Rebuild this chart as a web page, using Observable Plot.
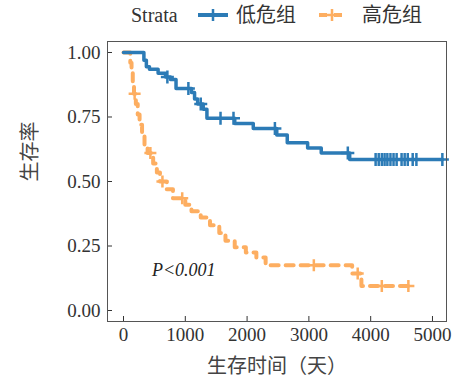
<!DOCTYPE html>
<html>
<head>
<meta charset="utf-8">
<script src="https://cdn.jsdelivr.net/npm/d3@7"></script>
<script src="https://cdn.jsdelivr.net/npm/@observablehq/plot@0.6"></script>
<style>
  body { margin: 0; background: #fff; }
  #wrap { width: 452px; position: relative; }
  #legend { position: relative; width: 452px; height: 35px; font-family: "Liberation Serif", "Noto Sans CJK SC", serif; color: #333; }
  #legend .item { position: absolute; top: 0; height: 30px; line-height: 30px; white-space: nowrap; }
  #legend svg { position: absolute; top: 0; }
  #chart svg text { font-family: "Liberation Serif", "Noto Sans CJK SC", serif; }
</style>
</head>
<body>
<div id="wrap">
  <div id="legend"></div>
  <div id="chart"></div>
</div>
<script>
// ---- data ----
const strataTitle = "Strata";
const groups = ["低危组", "高危组"];
const colors = ["#2C7BB6", "#FDAE61"];

const xTicks = [0, 1000, 2000, 3000, 4000, 5000];
const yTicks = [0, 0.25, 0.5, 0.75, 1];

// 低危组 (low risk): event times and survival after each event
const lowEventTimes = [330, 370, 420, 560, 680, 760, 850, 1100, 1150, 1200, 1290, 1350, 1800, 2100, 2480, 2650, 2980, 3200, 3660];
const lowEventSurv  = [0.97, 0.945, 0.935, 0.92, 0.905, 0.895, 0.86, 0.845, 0.82, 0.80, 0.78, 0.745, 0.725, 0.705, 0.68, 0.65, 0.63, 0.61, 0.585];
const lowCensorTimes = [710, 1050, 1250, 1570, 1780, 2450, 3630, 4080, 4130, 4180, 4225, 4270, 4320, 4370, 4420, 4500, 4550, 4600, 4680, 4740, 5160];

// 高危组 (high risk)
const highEventTimes = [110, 130, 150, 170, 200, 230, 260, 300, 340, 390, 480, 540, 590, 700, 800, 1000, 1100, 1250, 1400, 1550, 1650, 1800, 1980, 2150, 2300, 3700, 3850];
const highEventSurv  = [0.96, 0.92, 0.88, 0.84, 0.80, 0.76, 0.72, 0.68, 0.64, 0.61, 0.57, 0.535, 0.50, 0.47, 0.435, 0.41, 0.385, 0.36, 0.33, 0.30, 0.27, 0.245, 0.225, 0.205, 0.175, 0.143, 0.095];
const highCensorTimes = [180, 435, 630, 950, 3080, 3790, 4180, 4610];

const pLabel = "P<0.001";
const xLabel = "生存时间（天）";
const yLabel = "生存率";

// ---- build KM step data ----
function survAt(times, surv, t) {
  let s = 1;
  for (let i = 0; i < times.length; i++) if (times[i] <= t) s = surv[i];
  return s;
}
function kmLine(times, surv, censors, group) {
  const pts = [{t: 0, s: 1, group}];
  times.forEach((t, i) => pts.push({t, s: surv[i], group}));
  const end = Math.max(d3.max(times), d3.max(censors));
  pts.push({t: end, s: survAt(times, surv, end), group});
  return pts;
}
function kmCensor(times, surv, censors, group) {
  return censors.map(t => ({t, s: survAt(times, surv, t), group}));
}
const lowLine = kmLine(lowEventTimes, lowEventSurv, lowCensorTimes, groups[0]);
const highLine = kmLine(highEventTimes, highEventSurv, highCensorTimes, groups[1]);
const lowCens = kmCensor(lowEventTimes, lowEventSurv, lowCensorTimes, groups[0]);
const highCens = kmCensor(highEventTimes, highEventSurv, highCensorTimes, groups[1]);

const plusSymbol = {
  draw(context, size) {
    const r = Math.sqrt(size / Math.PI);
    context.moveTo(-r, 0); context.lineTo(r, 0);
    context.moveTo(0, -r); context.lineTo(0, r);
  }
};

// ---- legend ----
const legend = document.getElementById("legend");
function addText(txt, left, size) {
  const s = document.createElement("span");
  s.className = "item"; s.textContent = txt;
  s.style.left = left + "px"; s.style.fontSize = size + "px";
  legend.appendChild(s);
}
function addKey(left, color, dashed) {
  const ns = "http://www.w3.org/2000/svg";
  const svg = document.createElementNS(ns, "svg");
  svg.setAttribute("width", 34); svg.setAttribute("height", 30);
  svg.style.left = left + "px";
  const l = document.createElementNS(ns, "line");
  l.setAttribute("x1", 2); l.setAttribute("x2", 32); l.setAttribute("y1", 15); l.setAttribute("y2", 15);
  l.setAttribute("stroke", color); l.setAttribute("stroke-width", 4);
  if (dashed) l.setAttribute("stroke-dasharray", "8,7"), l.setAttribute("stroke-dashoffset", "-2");
  svg.appendChild(l);
  const p = document.createElementNS(ns, "path");
  p.setAttribute("d", "M11,15H23M17,9V21");
  p.setAttribute("stroke", color); p.setAttribute("stroke-width", 2.5); p.setAttribute("fill", "none");
  svg.appendChild(p);
  legend.appendChild(svg);
}
addText(strataTitle, 131, 20);
addKey(196, colors[0], false);
addText(groups[0], 236, 20);
addKey(315, colors[1], true);
addText(groups[1], 362, 20);

// ---- chart ----
const font = "'Liberation Serif', 'Noto Sans CJK SC', serif";
const chart = Plot.plot({
  width: 452,
  height: 355,
  marginTop: 6,
  marginRight: 6,
  marginBottom: 69,
  marginLeft: 107,
  style: {fontFamily: font, fontSize: "18px", color: "#333", background: "#fff"},
  x: {domain: [-259, 5227]},
  y: {domain: [-0.0426, 1.0426]},
  marks: [
    Plot.ruleX(xTicks, {x: d => d, insetTop: 275, stroke: "#333", strokeWidth: 1}),
    Plot.ruleY(yTicks, {y: d => d, insetRight: 334, stroke: "#333", strokeWidth: 1}),
    Plot.axisX(xTicks, {tickSize: 0, tickPadding: 6, fontSize: 19, label: null, tickFormat: d3.format("d"), fontFamily: font}),
    Plot.axisY(yTicks, {tickSize: 0, tickPadding: 7, fontSize: 19, label: null, tickFormat: d3.format(".2f"), fontFamily: font}),
    Plot.line(highLine, {x: "t", y: "s", curve: "step-after", stroke: colors[1], strokeWidth: 4, strokeDasharray: "8,7"}),
    Plot.line(lowLine, {x: "t", y: "s", curve: "step-after", stroke: colors[0], strokeWidth: 3.5}),
    Plot.dot(highCens, {x: "t", y: "s", symbol: plusSymbol, r: 6, stroke: colors[1], strokeWidth: 2.5, fill: "none"}),
    Plot.dot(lowCens, {x: "t", y: "s", symbol: plusSymbol, r: 6.5, stroke: colors[0], strokeWidth: 2.5, fill: "none"}),
    Plot.text([pLabel], {x: 975, y: 0.155, text: d => d, fontSize: 18, fontStyle: "italic", fill: "#222", fontFamily: font}),
    Plot.text([xLabel], {frameAnchor: "bottom", dy: 51, text: d => d, fontSize: 20, fill: "#444", fontFamily: font}),
    Plot.text([yLabel], {frameAnchor: "left", dx: -77, rotate: -90, text: d => d, fontSize: 20, fill: "#444", fontFamily: font}),
    Plot.frame({stroke: "#555", strokeWidth: 1})
  ]
});
document.getElementById("chart").appendChild(chart);
</script>
</body>
</html>
